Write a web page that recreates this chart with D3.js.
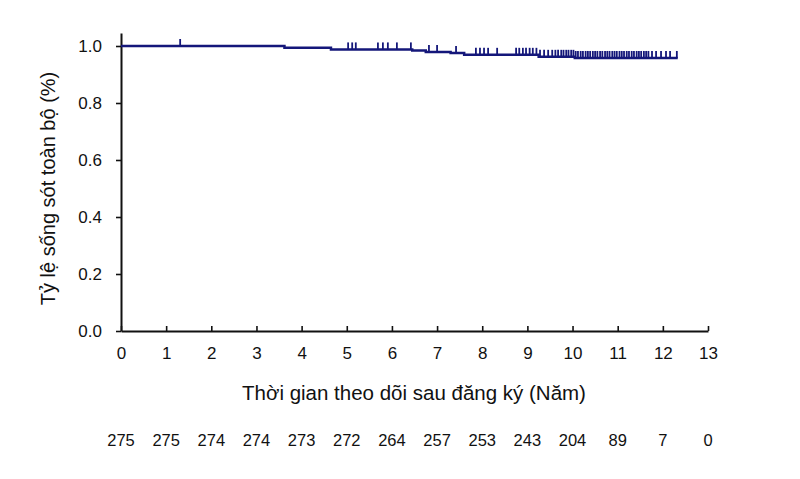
<!DOCTYPE html>
<html>
<head>
<meta charset="utf-8">
<script src="https://cdn.jsdelivr.net/npm/d3@7"></script>
<style>
  body { margin: 0; background: #fff; }
  text { font-family: "Liberation Sans", Arial, sans-serif; fill: #111; }
</style>
</head>
<body>
<script>
// Kaplan-Meier steps (time in years, survival)
const stepTimes = [0, 3.62, 4.65, 6.45, 6.75, 7.3, 7.6, 9.25, 10.05];
const survival  = [1.0, 0.994, 0.988, 0.984, 0.979, 0.975, 0.969, 0.962, 0.958];
const endTime = 12.33;

// censored observations (time in years)
const censorTimes = [1.31, 5.03, 5.12, 5.2, 5.69, 5.8, 5.91, 6.11, 6.42, 6.82, 7.0, 7.42,
  7.86, 7.95, 8.04, 8.13, 8.33, 8.75, 8.82, 8.9, 8.97, 9.05, 9.12, 9.2, 9.28, 9.37, 9.46,
  9.55, 9.62, 9.68, 9.75, 9.8, 9.86, 9.91, 9.97, 10.02, 10.07, 10.12, 10.18, 10.23, 10.29,
  10.34, 10.39, 10.45, 10.5, 10.55, 10.61, 10.66, 10.72, 10.77, 10.82, 10.88, 10.93, 10.98,
  11.04, 11.09, 11.14, 11.2, 11.25, 11.31, 11.36, 11.42, 11.47, 11.52, 11.58, 11.63, 11.68,
  11.76, 11.85, 11.96, 12.07, 12.16, 12.31];

const xTicks = [0, 1, 2, 3, 4, 5, 6, 7, 8, 9, 10, 11, 12, 13];
const yTicks = [0, 0.2, 0.4, 0.6, 0.8, 1.0];
const atRisk = [275, 275, 274, 274, 273, 272, 264, 257, 253, 243, 204, 89, 7, 0];

const width = 800, height = 479;
const color = "#14177a";

const svg = d3.select("body").append("svg")
    .attr("width", width)
    .attr("height", height);

const x = d3.scaleLinear().domain([0, 13]).range([121, 708]);
const y = d3.scaleLinear().domain([0, 1.0456]).range([331, 33]);

// axes
const xAxis = svg.append("g")
    .attr("transform", `translate(0,${y(0)})`)
    .call(d3.axisBottom(x).tickValues(xTicks).tickSizeInner(-5).tickSizeOuter(0).tickPadding(16))
xAxis.selectAll("text").attr("font-size", 17).attr("dy", "0.71em");
xAxis.select(".domain").attr("stroke", "#111").attr("stroke-width", 2);
xAxis.selectAll(".tick line").attr("stroke", "#111").attr("stroke-width", 1.6);

const yAxis = svg.append("g")
    .attr("transform", `translate(${x(0)},0)`)
    .call(d3.axisLeft(y).tickValues(yTicks).tickFormat(d3.format(".1f")).tickSizeInner(5).tickSizeOuter(0).tickPadding(14));
yAxis.selectAll("text").attr("font-size", 17);
yAxis.select(".domain").attr("stroke", "#111").attr("stroke-width", 2);
yAxis.selectAll(".tick line").attr("stroke", "#111").attr("stroke-width", 1.6);

// survival curve
const pts = stepTimes.map((t, i) => [t, survival[i]]);
pts.push([endTime, survival[survival.length - 1]]);
const line = d3.line().x(d => x(d[0])).y(d => y(d[1])).curve(d3.curveStepAfter);
svg.append("path")
    .datum(pts)
    .attr("d", line)
    .attr("fill", "none")
    .attr("stroke", color)
    .attr("stroke-width", 2.5);

// censor marks
function survAt(t) {
  let s = survival[0];
  stepTimes.forEach((st, i) => { if (t >= st) s = survival[i]; });
  return s;
}
svg.append("g")
  .selectAll("line")
  .data(censorTimes)
  .join("line")
    .attr("x1", d => x(d)).attr("x2", d => x(d))
    .attr("y1", d => y(survAt(d)))
    .attr("y2", d => y(survAt(d)) - 7)
    .attr("stroke", color)
    .attr("stroke-width", 1.8);

// titles
svg.append("text")
    .attr("transform", `translate(55,${y(0.5)}) rotate(-90)`)
    .attr("text-anchor", "middle")
    .attr("font-size", 20)
    .text("Tỷ lệ sống sót toàn bộ (%)");

svg.append("text")
    .attr("x", 414).attr("y", 400)
    .attr("text-anchor", "middle")
    .attr("font-size", 20.5)
    .text("Thời gian theo dõi sau đăng ký (Năm)");

// number at risk
svg.append("g")
  .selectAll("text")
  .data(atRisk)
  .join("text")
    .attr("x", (d, i) => x(xTicks[i]))
    .attr("y", 446)
    .attr("text-anchor", "middle")
    .attr("font-size", 16.5)
    .text(d => d);
</script>
</body>
</html>
